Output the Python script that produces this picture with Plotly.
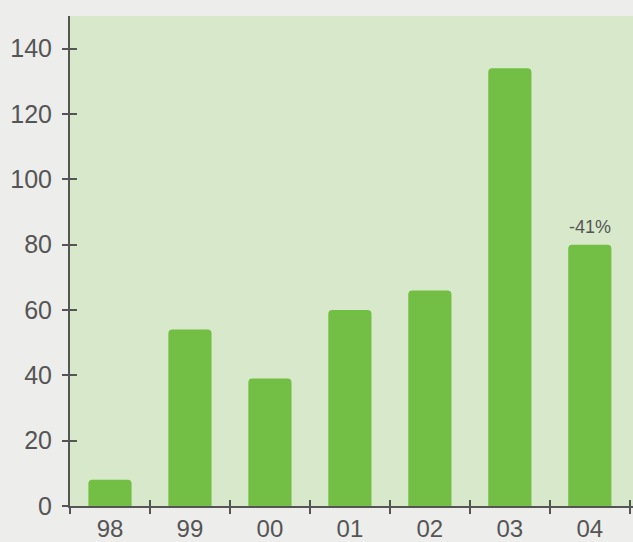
import plotly.graph_objects as go

categories = ["98", "99", "00", "01", "02", "03", "04"]
values = [8, 54, 39, 60, 66, 134, 80]
y_ticks = [0, 20, 40, 60, 80, 100, 120, 140]
note_text = "-41%"

bar_color = "#73be44"
plot_bg = "#d7e9ca"
paper_bg = "#ededeb"
axis_color = "#555555"
font_family = "Liberation Sans, Arial, sans-serif"

fig = go.Figure()
fig.add_trace(go.Bar(
    x=categories, y=values,
    marker=dict(color=bar_color, line=dict(width=0)),
    width=0.54,
    hoverinfo="skip",
))
# transparent twin of the bars on the overlay axes, so those axes draw the
# inner half of the crossing tick marks
fig.add_trace(go.Bar(
    x=categories, y=values, xaxis="x2", yaxis="y2",
    marker=dict(color="rgba(0,0,0,0)", line=dict(width=0)),
    width=0.54, showlegend=False, hoverinfo="skip",
))

fig.add_annotation(
    x=len(categories) - 1, y=values[-1], xref="x", yref="y", text=note_text,
    showarrow=False, yanchor="bottom", yshift=6,
    font=dict(family=font_family, size=18, color=axis_color),
)

fig.update_layout(
    width=633, height=542,
    margin=dict(l=70, r=0, t=16, b=36, pad=0, autoexpand=False),
    paper_bgcolor=paper_bg,
    plot_bgcolor=plot_bg,
    showlegend=False,
    barcornerradius=4,
    font=dict(family=font_family, size=25, color=axis_color),
    xaxis=dict(
        type="category",
        categoryarray=categories,
        range=[-0.5, 6.54],
        automargin=False,
        showline=True, linecolor=axis_color, linewidth=2,
        ticks="outside", tickson="boundaries", ticklen=6,
        tickwidth=2, tickcolor=axis_color,
        showgrid=False, zeroline=False,
        ticklabelstandoff=0,
        tickfont=dict(size=24, color=axis_color),
    ),
    xaxis2=dict(
        type="category",
        categoryarray=categories,
        overlaying="x", anchor="y",
        range=[-0.5, 6.54],
        automargin=False,
        ticks="inside", tickson="boundaries", ticklen=6,
        tickwidth=2, tickcolor=axis_color,
        showticklabels=False, showgrid=False, zeroline=False, showline=False,
        side="bottom",
    ),
    yaxis=dict(
        range=[0, 150],
        tickvals=y_ticks,
        automargin=False,
        showline=True, linecolor=axis_color, linewidth=2,
        ticks="outside", ticklen=6, tickwidth=2, tickcolor=axis_color,
        showgrid=False, zeroline=False,
        ticklabelstandoff=5,
        tickfont=dict(size=25, color=axis_color),
    ),
    yaxis2=dict(
        overlaying="y", anchor="x",
        range=[0, 150],
        tickvals=y_ticks,
        automargin=False,
        ticks="inside", ticklen=7, tickwidth=2, tickcolor=axis_color,
        showticklabels=False, showgrid=False, zeroline=False, showline=False,
        side="left",
    ),
)

fig.write_html(
    "out.html",
    config={"displayModeBar": False},
    post_script="document.body.style.margin='0';document.body.style.overflow='hidden';"
                "document.body.style.background='" + paper_bg + "';",
)
